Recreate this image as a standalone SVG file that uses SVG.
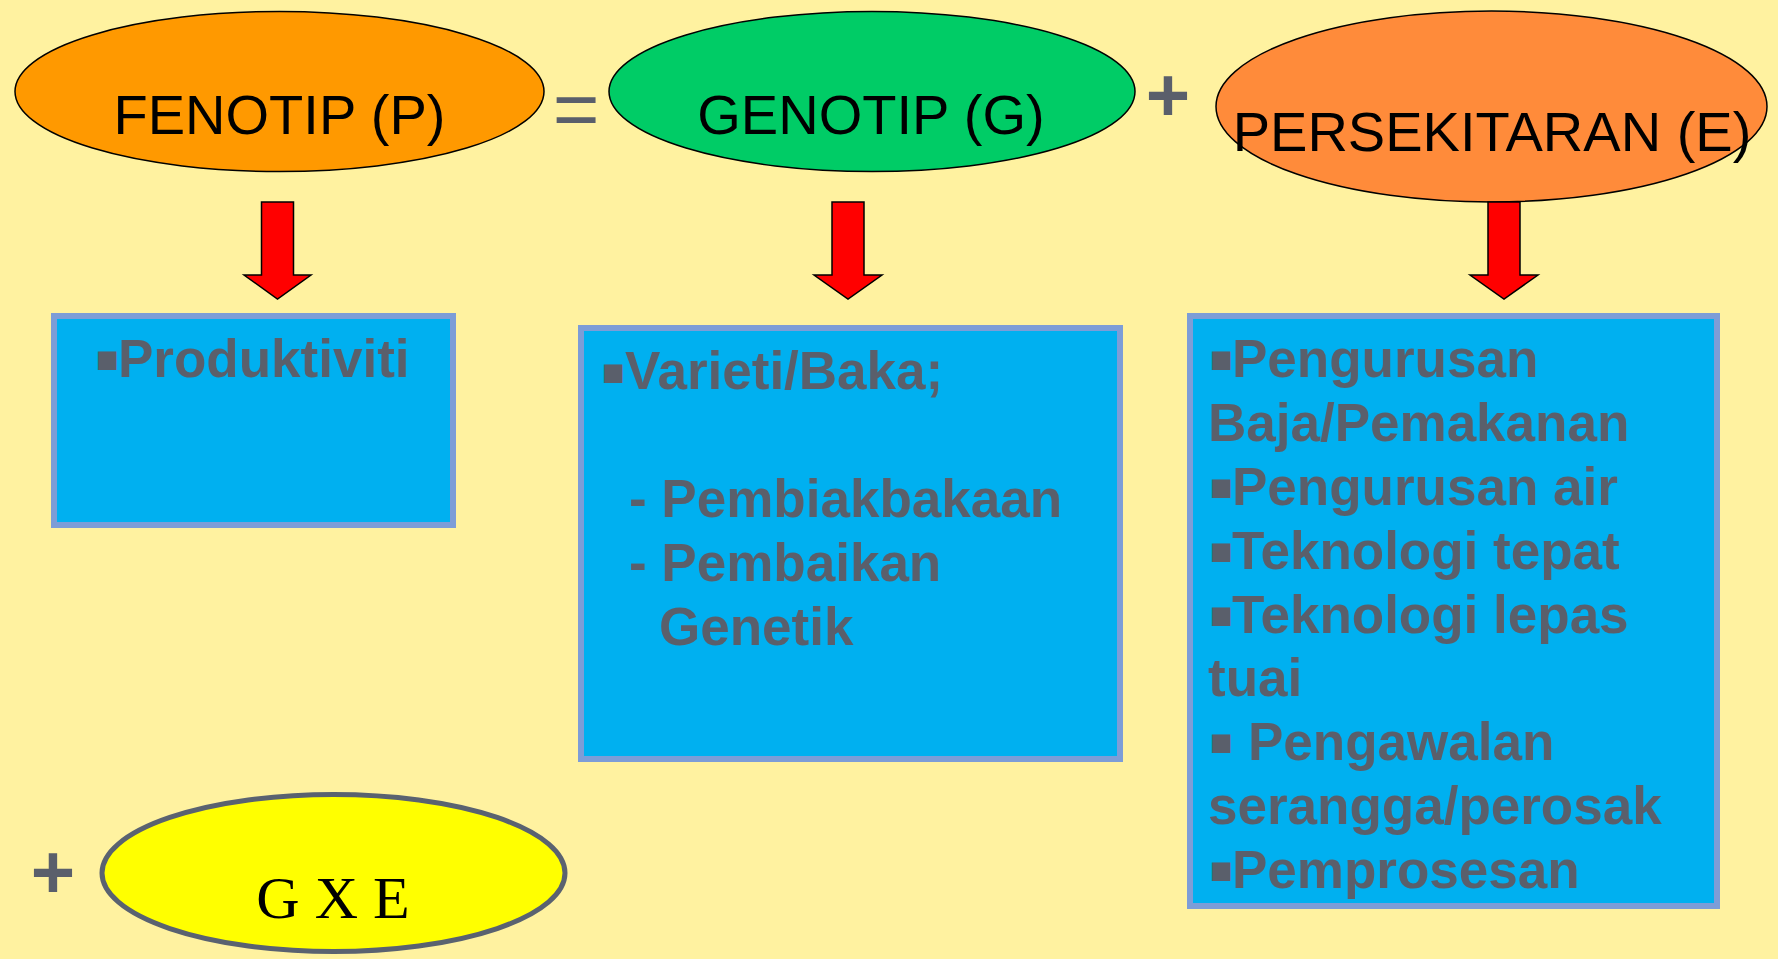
<svg xmlns="http://www.w3.org/2000/svg" width="1778" height="959" viewBox="0 0 1778 959">
<style>
.ell{stroke:#000;stroke-width:1.5}
.title{font-family:"Liberation Sans",Arial,sans-serif;font-size:56px;fill:#000;text-anchor:middle}
.op{font-family:"Liberation Sans",Arial,sans-serif;font-size:80px;fill:#5A5F6B;text-anchor:middle}
.opb{font-family:"Liberation Sans",Arial,sans-serif;font-size:76px;font-weight:bold;fill:#5A5F6B;text-anchor:middle}
.box{fill:#00B0F0;stroke:#7D9DD7;stroke-width:6}
.bt{font-family:"Liberation Sans",Arial,sans-serif;font-size:53px;font-weight:bold;fill:#5A5F6B}
.b{font-family:"Liberation Sans",Arial,sans-serif;font-size:38px;font-weight:normal}
.arrow{fill:#FF0000;stroke:#000;stroke-width:1.5;stroke-linejoin:miter}
</style>
<rect width="1778" height="959" fill="#FFF2A0"/>
<g id="fenotip">
<ellipse class="ell" cx="279.5" cy="91.5" rx="264.5" ry="80" fill="#FF9900"/>
<text class="title" x="279.5" y="134">FENOTIP (P)</text>
</g>
<g id="equals"><text class="op" x="576" y="136">=</text></g>
<g id="genotip">
<ellipse class="ell" cx="872" cy="91.5" rx="263" ry="80" fill="#00CC66"/>
<text class="title" x="871" y="134">GENOTIP (G)</text>
</g>
<g id="plus1"><text class="opb" x="1168" y="121">+</text></g>
<g id="persekitaran">
<ellipse class="ell" cx="1491.5" cy="106.5" rx="275.5" ry="95.5" fill="#FF8B3A"/>
<text class="title" x="1492" y="151">PERSEKITARAN (E)</text>
</g>
<g id="connectors">
<polygon class="arrow" points="261.5,202 293.5,202 293.5,275 311,275 277.5,299 244,275 261.5,275"/>
<polygon class="arrow" points="832,202 864,202 864,275 882,275 848,299 814,275 832,275"/>
<polygon class="arrow" points="1488,202 1520,202 1520,275 1538,275 1504,299 1470,275 1488,275"/>
</g>
<g id="box-produktiviti">
<rect class="box" x="54" y="316" width="399" height="209"/>
<text class="bt" y="377"><tspan class="b" x="96" dy="-5">■</tspan><tspan x="118" dy="5">Produktiviti</tspan></text>
</g>
<g id="box-varieti">
<rect class="box" x="581" y="328" width="539" height="431"/>
<text class="bt" y="389"><tspan class="b" x="602" dy="-4">■</tspan><tspan x="625" dy="4">Varieti/Baka;</tspan></text>
<text class="bt" x="629" y="517">- Pembiakbakaan</text>
<text class="bt" x="629" y="581">- Pembaikan</text>
<text class="bt" x="659" y="645">Genetik</text>
</g>
<g id="box-persekitaran">
<rect class="box" x="1190" y="316" width="527" height="590"/>
<text class="bt" y="377"><tspan class="b" x="1210" dy="-5">■</tspan><tspan x="1232" dy="5">Pengurusan</tspan></text>
<text class="bt" x="1208" y="441">Baja/Pemakanan</text>
<text class="bt" y="505"><tspan class="b" x="1210" dy="-5">■</tspan><tspan x="1232" dy="5">Pengurusan air</tspan></text>
<text class="bt" y="569"><tspan class="b" x="1210" dy="-5">■</tspan><tspan x="1232" dy="5">Teknologi tepat</tspan></text>
<text class="bt" y="633"><tspan class="b" x="1210" dy="-5">■</tspan><tspan x="1232" dy="5">Teknologi lepas</tspan></text>
<text class="bt" x="1208" y="696">tuai</text>
<text class="bt" y="760"><tspan class="b" x="1210" dy="-5">■</tspan><tspan x="1248" dy="5">Pengawalan</tspan></text>
<text class="bt" x="1208" y="824">serangga/perosak</text>
<text class="bt" y="888"><tspan class="b" x="1210" dy="-5">■</tspan><tspan x="1232" dy="5">Pemprosesan</tspan></text>
</g>
<g id="plus2"><text class="opb" x="53" y="898">+</text></g>
<g id="gxe">
<ellipse cx="333.5" cy="873" rx="231.5" ry="78.5" fill="#FFFF00" stroke="#5A6270" stroke-width="5"/>
<text x="333" y="918" font-family="'Liberation Serif','Times New Roman',serif" font-size="60" fill="#000" text-anchor="middle">G X E</text>
</g>
</svg>
